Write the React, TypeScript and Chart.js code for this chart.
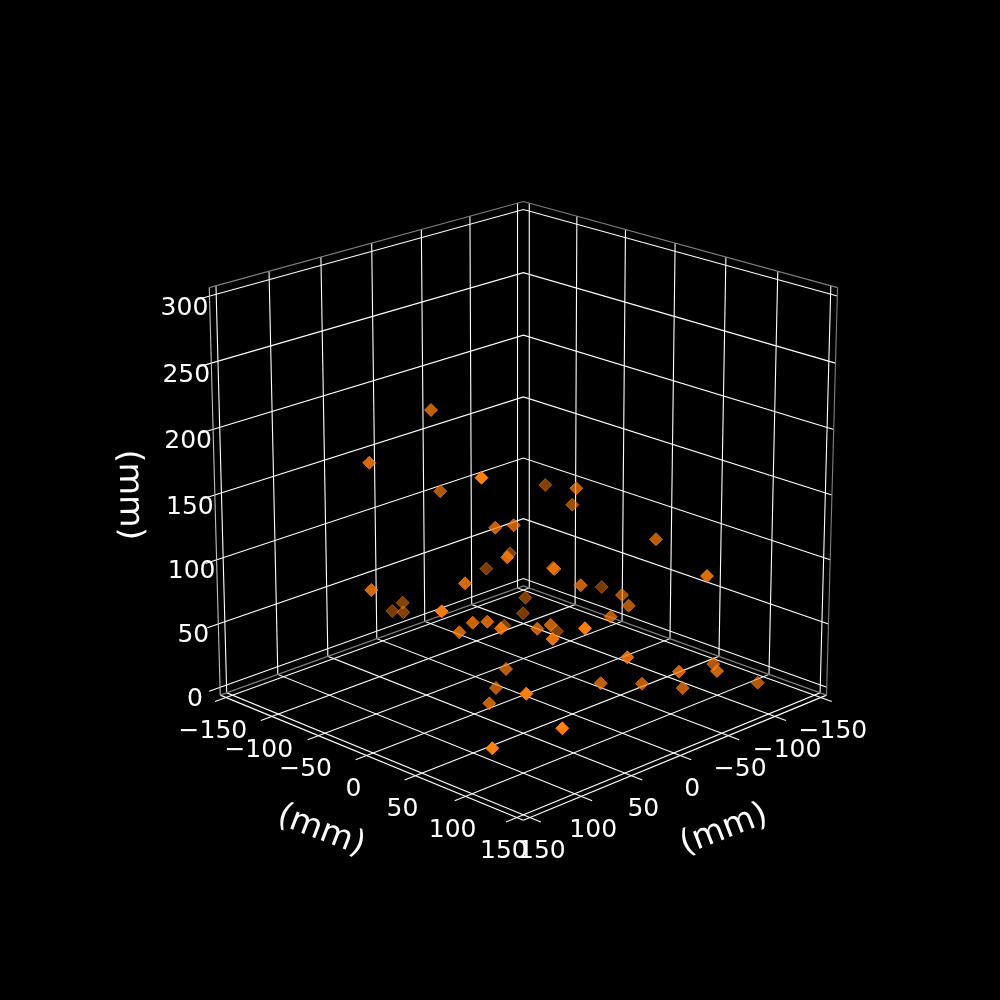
import React, { useEffect, useRef } from 'react';
import { Chart, registerables, type Plugin } from 'chart.js';

Chart.register(...registerables);

// tick values on the three axes, mm
const xTicks = [-150, -100, -50, 0, 50, 100, 150];
const yTicks = [-150, -100, -50, 0, 50, 100, 150];
const zTicks = [0, 50, 100, 150, 200, 250, 300];
const axisLabel = '(mm)';

// markers, in the plane of the view (0-1000)
const sceneX = [
  431, 369.3, 440.3, 481.5, 545.3, 576.3, 572.3, 495.3, 513.7, 507.3, 510, 486.3,
  553, 554.5, 656, 707, 465, 371.3, 402.7, 392.3, 403.3, 441.7, 525.3, 523,
  472.7, 487.3, 459.3, 501, 504.3, 537.3, 550.7, 557, 552.7, 580.7, 601.7, 622,
  628.7, 610.7, 585, 627.3, 600.7, 642, 679, 682.7, 713.3, 717, 757.7, 506,
  496, 526.3, 489.3, 562.3, 492.3,
];
const sceneY = [
  410, 462.7, 491.3, 477.7, 485, 488.3, 504.7, 527.7, 525.3, 557.3, 553.3, 568.7,
  568, 569, 539.3, 576, 583.3, 590, 602.7, 611, 612.3, 611.3, 597.7, 613.3,
  622.7, 621.7, 632.3, 628.3, 625.7, 628.7, 625, 631.3, 639, 585.3, 587, 595,
  605.7, 616.7, 628.3, 657.3, 683.3, 683.7, 671.7, 688, 664, 671, 682.7, 669,
  688, 693.7, 703.3, 728.3, 748.3,
];
// 0 near the viewer, 1 far away; the markers fade with it
const pointDepth = [
  0.35, 0.25, 0.45, 0, 0.7, 0.4, 0.55, 0.35, 0.35, 0.2, 0.7, 0.75,
  0.45, 0.45, 0.4, 0.2, 0.25, 0.25, 0.7, 0.75, 0.7, 0.05, 0.7, 0.75,
  0.3, 0.3, 0.3, 0.2, 0.7, 0.35, 0.35, 0.7, 0.15, 0.35, 0.75, 0.5,
  0.45, 0.4, 0, 0.2, 0.35, 0.4, 0.3, 0.4, 0.45, 0.3, 0.45, 0.4,
  0.45, 0, 0.35, 0, 0,
];

const ELEV = (20 * Math.PI) / 180;
const AZIM = (45 * Math.PI) / 180;
const DIST = 10;
const PAD = 1 / 48; // panes stick out past the limits by this much

// view transform of a unit cube, same as mplot3d
const project = (nx: number, ny: number, nz: number) => {
  const wx = Math.cos(ELEV) * Math.cos(AZIM);
  const wy = Math.cos(ELEV) * Math.sin(AZIM);
  const wz = Math.sin(ELEV);
  const px = nx - 0.5;
  const py = ny - 0.5;
  const pz = nz - 0.5;
  const ux = -Math.sin(AZIM);
  const uy = Math.cos(AZIM);
  const vx = -Math.sin(ELEV) * Math.cos(AZIM);
  const vy = -Math.sin(ELEV) * Math.sin(AZIM);
  const vz = Math.cos(ELEV);
  const d = DIST - (px * wx + py * wy + pz * wz);
  return {
    x: 523.4 + (4189 * (px * ux + py * uy)) / d,
    y: 495 - (4162 * (px * vx + py * vy + pz * vz)) / d,
  };
};

const nx = (v: number) => (v + 150) / 300;
const nz = (v: number) => v / 300;
const LO = -PAD;
const HI = 1 + PAD;

const line = (pts: number[][], color = '#ffffff', width = 1.1) => ({
  type: 'line' as const,
  data: pts.map(p => project(p[0], p[1], p[2])),
  showLine: true,
  borderColor: color,
  borderWidth: width,
  pointRadius: 0,
  fill: false,
  order: 2,
});

const buildLines = () => {
  const sets: any[] = [];
  const TICK = 0.035;
  // pane edges
  const pane = '#7f7f7f';
  sets.push(line([[HI, LO, HI], [LO, LO, HI], [LO, HI, HI]], pane));
  sets.push(line([[HI, LO, LO], [LO, LO, LO], [LO, HI, LO]], pane));
  sets.push(line([[LO, HI, LO], [LO, HI, HI]], pane));
  sets.push(line([[HI, LO, LO], [HI, LO, HI]], '#bfbfbf'));
  // axis lines
  sets.push(line([[HI, LO, LO], [HI, HI, LO]]));
  sets.push(line([[LO, HI, LO], [HI, HI, LO]]));
  // grid
  xTicks.forEach(t => {
    const v = nx(t);
    sets.push(line([[v, HI + TICK, LO], [v, LO, LO], [v, LO, HI]]));
  });
  yTicks.forEach(t => {
    const v = nx(t);
    sets.push(line([[HI + TICK, v, LO], [LO, v, LO], [LO, v, HI]]));
  });
  zTicks.forEach(t => {
    const v = nz(t);
    sets.push(line([[HI + TICK, LO, v], [LO, LO, v], [LO, HI, v]]));
  });
  return sets;
};

const textPlugin: Plugin = {
  id: 'axisText',
  afterDraw: chart => {
    const { ctx } = chart;
    const sc = chart.scales;
    const put = (text: string, x: number, y: number, size: number, rot = 0) => {
      ctx.save();
      ctx.translate(sc.x.getPixelForValue(x), sc.y.getPixelForValue(y));
      ctx.rotate((rot * Math.PI) / 180);
      ctx.font = `${size}px "DejaVu Sans"`;
      ctx.fillStyle = '#ffffff';
      ctx.textAlign = 'center';
      ctx.textBaseline = 'middle';
      ctx.fillText(text, 0, 0);
      ctx.restore();
    };
    const fmt = (v: number) => String(v).replace('-', '\u2212');
    xTicks.forEach(t => {
      const p = project(nx(t), HI, LO);
      put(fmt(t), p.x + 12, p.y + 34, 25);
    });
    yTicks.forEach(t => {
      const p = project(HI, nx(t), LO);
      put(fmt(t), p.x - 13, p.y + 34, 25);
    });
    zTicks.forEach(t => {
      const p = project(HI, LO, nz(t));
      put(fmt(t), p.x - 25, p.y + 12, 25);
    });
    put(axisLabel, 321, 831, 33.3, 21);
    put(axisLabel, 724, 830, 33.3, -21);
    put(axisLabel, 129, 495, 33.3, 89);
  },
};

export default function App() {
  const canvasRef = useRef<HTMLCanvasElement>(null);

  useEffect(() => {
    if (!canvasRef.current) return;
    document.body.style.margin = '0';
    document.body.style.background = '#000000';

    const alphas = pointDepth.map(d => 1 - 0.7 * d);
    const colors = alphas.map(a => `rgba(255, 127, 14, ${a})`);

    const chart = new Chart(canvasRef.current, {
      type: 'scatter',
      data: {
        datasets: [
          {
            data: sceneX.map((x, i) => ({ x, y: sceneY[i] })),
            pointStyle: 'rectRot',
            pointRadius: 6.5,
            pointBackgroundColor: colors,
            pointBorderColor: colors,
            pointBorderWidth: 1,
            order: 1,
          },
          ...buildLines(),
        ],
      },
      options: {
        animation: false,
        responsive: false,
        devicePixelRatio: 1,
        layout: { padding: 0, autoPadding: false },
        plugins: { legend: { display: false }, tooltip: { enabled: false } },
        scales: {
          x: { type: 'linear', display: false, min: 0, max: 1000 },
          y: { type: 'linear', display: false, min: 0, max: 1000, reverse: true },
        },
      },
      plugins: [textPlugin],
    });

    return () => chart.destroy();
  }, []);

  return (
    <div style={{ width: 1000, height: 1000, background: '#000000' }}>
      <canvas ref={canvasRef} width={1000} height={1000} style={{ display: 'block' }}></canvas>
    </div>
  );
}
